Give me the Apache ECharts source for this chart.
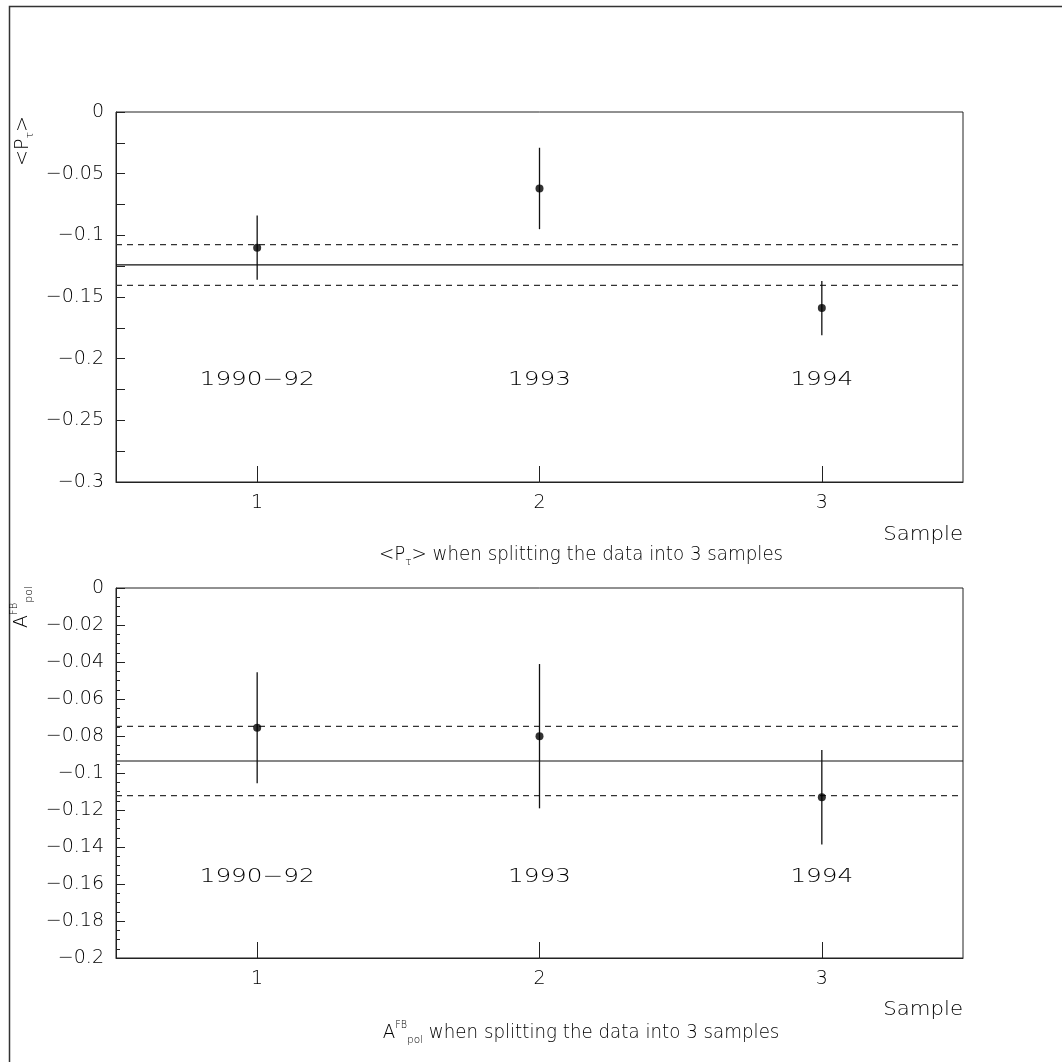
<!DOCTYPE html>
<html><head><meta charset="utf-8">
<script src="https://cdn.jsdelivr.net/npm/echarts@6/dist/echarts.min.js"></script>
<style>html,body{margin:0;padding:0;background:#fff}#c{width:1062px;height:1062px}</style>
</head><body><div id="c"></div><script>
// ---- data ----
const samples = [1, 2, 3];
const sampleTickLabels = ['1', '2', '3'];
const yearLabels = ['1990−92', '1993', '1994'];
const ptauValues = [-0.110, -0.062, -0.159];
const ptauErrors = [0.026, 0.033, 0.022];
const ptauMean = -0.124;
const ptauMeanErr = 0.0165;
const ptauYearLabelY = -0.2175;
const afbValues = [-0.0756, -0.0801, -0.1131];
const afbErrors = [0.030, 0.039, 0.0255];
const afbMean = -0.0935;
const afbMeanErr = 0.0187;
const afbYearLabelY = -0.1565;
const xRange = [0.5, 3.5];

const FONT = "'DejaVu Sans', sans-serif";
const TXT = '#000';
const FW = 200;
const chart = echarts.init(document.getElementById('c'), null, {renderer: 'canvas'});

function fmt(v) {
  if (Math.abs(v) < 1e-9) return '0';
  return String(+v.toFixed(3)).replace('-', '−');
}

function xAxis(i) {
  return {
    type: 'value', gridIndex: i, min: xRange[0], max: xRange[1],
    axisLine: {show: true, onZero: false, lineStyle: {color: '#222', width: 1}},
    axisTick: {show: true, inside: true, length: 16, customValues: samples, lineStyle: {color: '#222'}},
    axisLabel: {customValues: samples, formatter: v => sampleTickLabels[samples.indexOf(v)],
      margin: 12, fontSize: 19, fontWeight: FW, color: TXT, fontFamily: FONT},
    splitLine: {show: false}
  };
}
function yAxis(i, min, interval, minorSplit, minorLen) {
  return {
    type: 'value', gridIndex: i, min: min, max: 0, interval: interval,
    axisLine: {show: true, onZero: false, lineStyle: {color: '#222', width: 1}},
    axisTick: {show: true, inside: true, length: 9, lineStyle: {color: '#222'}},
    minorTick: {show: true, splitNumber: minorSplit, length: minorLen, lineStyle: {color: '#222'}},
    axisLabel: {formatter: fmt, margin: 12, fontSize: 19, fontWeight: FW, color: TXT, fontFamily: FONT},
    splitLine: {show: false}, minorSplitLine: {show: false}
  };
}
function errSeries(i, vals, errs) {
  return {
    type: 'custom', xAxisIndex: i, yAxisIndex: i, silent: true, z: 3,
    data: samples.map((s, k) => [s, vals[k] - errs[k], vals[k] + errs[k]]),
    encode: {x: 0, y: [1, 2]},
    renderItem: (params, api) => {
      const p1 = api.coord([api.value(0), api.value(1)]);
      const p2 = api.coord([api.value(0), api.value(2)]);
      return {type: 'line', shape: {x1: p1[0], y1: p1[1], x2: p2[0], y2: p2[1]},
        style: {stroke: '#111', lineWidth: 1.3}};
    }
  };
}
function pointSeries(i, vals) {
  return {
    type: 'scatter', xAxisIndex: i, yAxisIndex: i, z: 4, silent: true,
    symbol: 'circle', symbolSize: 8, itemStyle: {color: '#000'},
    data: samples.map((s, k) => [s, vals[k]])
  };
}
function hLine(i, y, dashed) {
  return {
    type: 'line', xAxisIndex: i, yAxisIndex: i, silent: true, z: 2, symbol: 'none',
    data: [[xRange[0], y], [xRange[1], y]],
    lineStyle: dashed ? {type: [6, 5], color: '#333', width: 1.2} : {type: 'solid', color: '#111', width: 1.2}
  };
}
function yearSeries(i, yv) {
  return {
    type: 'custom', xAxisIndex: i, yAxisIndex: i, silent: true, z: 5,
    data: samples.map(s => [s, yv]),
    encode: {x: 0, y: 1},
    renderItem: (params, api) => {
      const p = api.coord([api.value(0), api.value(1)]);
      return {type: 'text', x: p[0], y: p[1], scaleX: 1.3,
        style: {text: yearLabels[params.dataIndex], align: 'center', verticalAlign: 'middle',
          fontSize: 19, fontWeight: FW, fill: TXT, fontFamily: FONT}};
    }
  };
}
const rich = {
  a: {fontSize: 19, fontWeight: FW, color: TXT, fontFamily: FONT, lineHeight: 26},
  s: {fontSize: 11, fontWeight: FW, color: TXT, fontFamily: FONT, verticalAlign: 'bottom', lineHeight: 12},
  sup: {fontSize: 10, fontWeight: FW, color: TXT, fontFamily: FONT, verticalAlign: 'top', lineHeight: 11},
  sub: {fontSize: 11, fontWeight: FW, color: TXT, fontFamily: FONT, verticalAlign: 'bottom', lineHeight: 12}
};
function txt(x, y, text, align, sx) {
  return {type: 'text', x: x, y: y, silent: true, scaleX: sx || 1,
    style: {text: text, rich: rich, align: align || 'center', verticalAlign: 'middle',
      fontSize: 19, fontWeight: FW, fill: TXT, fontFamily: FONT}};
}

const option = {
  animation: false,
  backgroundColor: '#fff',
  grid: [
    {left: 116, top: 112, width: 847, height: 370, show: true, borderColor: '#222', borderWidth: 1, containLabel: false},
    {left: 116, top: 588, width: 847, height: 370, show: true, borderColor: '#222', borderWidth: 1, containLabel: false}
  ],
  xAxis: [xAxis(0), xAxis(1)],
  yAxis: [yAxis(0, -0.3, 0.05, 2, 9), yAxis(1, -0.2, 0.02, 4, 4)],
  series: [
    hLine(0, ptauMean, false), hLine(0, ptauMean + ptauMeanErr, true), hLine(0, ptauMean - ptauMeanErr, true),
    errSeries(0, ptauValues, ptauErrors), pointSeries(0, ptauValues), yearSeries(0, ptauYearLabelY),
    hLine(1, afbMean, false), hLine(1, afbMean + afbMeanErr, true), hLine(1, afbMean - afbMeanErr, true),
    errSeries(1, afbValues, afbErrors), pointSeries(1, afbValues), yearSeries(1, afbYearLabelY)
  ],
  graphic: [
    {type: 'rect', silent: true, shape: {x: 9.5, y: 6.5, width: 1200, height: 1200},
      style: {fill: 'none', stroke: '#333', lineWidth: 1.5}},
    txt(963, 535, '{a|Sample}', 'right', 1.12),
    txt(963, 1010, '{a|Sample}', 'right', 1.12),
    txt(581, 555, '{a|<P}{s|τ}{a|> when splitting the data into 3 samples}', 'center', 0.96),
    txt(581, 1033, '{a|A}{sup|FB}{sub|pol}{a| when splitting the data into 3 samples}', 'center', 0.96),
    {type: 'group', x: 23, y: 141, rotation: Math.PI / 2, silent: true,
      children: [txt(0, 0, '{a|<P}{s|τ}{a|>}')]},
    {type: 'group', x: 22, y: 607, rotation: Math.PI / 2, silent: true,
      children: [txt(0, 0, '{a|A}{sup|FB}{sub|pol}')]}
  ]
};
chart.setOption(option);
</script></body></html>
